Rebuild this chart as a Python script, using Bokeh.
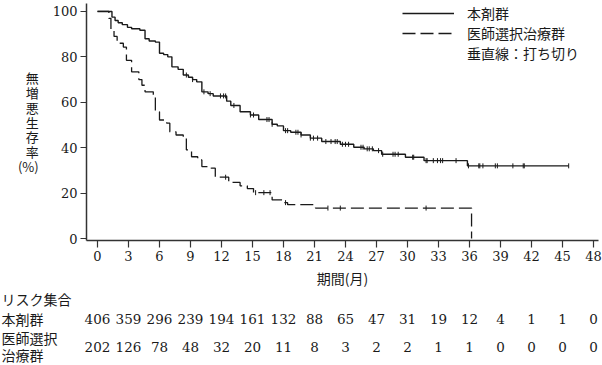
import numpy as np
from bokeh.plotting import figure
from bokeh.models import Range1d, Legend, LegendItem, FixedTicker, Label
from bokeh.layouts import column
from bokeh.core.properties import value
from bokeh.embed import file_html
from bokeh.resources import INLINE

# ---------------- data ----------------
name_a = "本剤群"
name_b = "医師選択治療群"
name_b_table = "医師選択\n治療群"
censor_note = "垂直線：打ち切り"
risk_header = "リスク集合"
x_title = "期間(月)"
y_title = "無\n増\n悪\n生\n存\n率\n(%)"

# 本剤群: step times (months) and survival (%) after each step
t_a = [0, 1.4, 1.7, 2.0, 2.4, 2.9, 3.3, 4.1, 4.6, 5.0, 5.6, 6.0, 6.4, 6.8, 7.2, 7.8, 8.3, 8.8,
       9.2, 9.6, 10.1, 10.7, 11.2, 12.5, 12.9, 13.8, 14.8, 15.6, 16.9, 17.4, 18.0, 18.7, 19.7,
       20.6, 21.7, 23.5, 24.8, 25.8, 26.7, 27.5, 29.8, 31.6, 35.8, 45.6]
s_a = [100, 97.5, 96, 95, 94.2, 93, 92.4, 91.7, 88, 87, 86.5, 81.6, 81, 80, 75.6, 74.5, 72, 71,
       70, 69, 64.6, 63.8, 62.8, 60.5, 58.6, 55.8, 54.4, 52.4, 50.3, 49.6, 47.5, 46.8, 45.6,
       44.2, 42.7, 41.5, 40.2, 39.5, 38.7, 37.1, 35.8, 34.3, 32, 32]
cens_a = [8.6, 9.2, 10.3, 10.9, 11.9, 12.2, 12.4, 13.2, 14.8, 15.1, 16.4, 16.6, 16.9, 18.2, 18.4,
          19.2, 19.4, 19.7, 20.6, 20.9, 21.3, 22.1, 22.6, 23.0, 23.2, 23.7, 24.0, 24.3, 25.5, 25.7,
          26.1, 26.3, 26.6, 27.2, 27.6, 28.6, 28.8, 29.1, 30.5, 30.6, 31.8, 31.9, 32.5, 32.9, 33.2,
          33.4, 34.7, 35.9, 36.9, 37.0, 37.3, 38.5, 38.7, 40.2, 41.2, 41.3, 45.6]

# 医師選択治療群
t_b = [0, 1.1, 1.3, 1.6, 1.9, 2.5, 2.8, 3.3, 4.0, 4.3, 4.6, 5.4, 5.6, 6.0, 6.7, 7.0, 7.6, 8.3,
       8.6, 9.1, 9.7, 10.1, 11.0, 11.4, 12.7, 13.8, 14.5, 15.1, 16.9, 17.9, 18.4, 21.1, 36.2]
s_b = [100, 97, 92, 89, 86, 84.3, 78.5, 73.4, 70, 67.5, 64.6, 63, 55.8, 52.2, 50.8, 47, 45.6,
       44.2, 39, 36, 34.6, 31.7, 31, 27, 24.7, 23.2, 22.0, 20.2, 17.0, 15.8, 14.9, 13.4, 0]
cens_b = [12.4, 15.3, 16.1, 16.7, 18.2, 22.3, 23.5, 31.8]

x_ticks = [0, 3, 6, 9, 12, 15, 18, 21, 24, 27, 30, 33, 36, 39, 42, 45, 48]
y_ticks = [0, 20, 40, 60, 80, 100]
risk_a = [406, 359, 296, 239, 194, 161, 132, 88, 65, 47, 31, 19, 12, 4, 1, 1, 0]
risk_b = [202, 126, 78, 48, 32, 20, 11, 8, 3, 2, 2, 1, 1, 0, 0, 0, 0]

# ---------------- style / layout ----------------
INK = "#1a1a1a"
AX = "#333333"
NUM_FONT = "DejaVu Serif"
JP_FONT = "Noto Sans CJK JP"

W = 602
H1 = 290
H2 = 75
B_LEFT, B_RIGHT, B_TOP, B_BOTTOM = 86, 4, 3, 49
frame_w = W - B_LEFT - B_RIGHT
PXPM = 10.333                     # pixels per month
x0 = -11 / PXPM
x1 = x0 + frame_w / PXPM
frame_h = H1 - B_TOP - B_BOTTOM
PXPP = 2.28                       # pixels per percent
y0 = -2 / PXPP
y1 = y0 + frame_h / PXPP

p = figure(width=W, height=H1, output_backend="svg", toolbar_location=None, title=None,
           x_range=Range1d(x0, x1), y_range=Range1d(y0, y1),
           min_border_left=B_LEFT, min_border_right=B_RIGHT,
           min_border_top=B_TOP, min_border_bottom=B_BOTTOM)
p.outline_line_color = None
p.grid.visible = False
p.background_fill_color = "white"

r_a = p.step(t_a, s_a, mode="after", line_color=INK, line_width=1.4)
r_b = p.step(t_b, s_b, mode="after", line_color=INK, line_width=1.3, line_dash="13 5")

def surv_at(tt, ss, c):
    idx = np.searchsorted(np.asarray(tt), np.asarray(c), side="right") - 1
    return np.asarray(ss)[idx]

p.scatter(cens_a, surv_at(t_a, s_a, cens_a), marker="dash", angle=np.pi / 2, size=5,
          line_color=INK, line_width=1)
p.scatter(cens_b, surv_at(t_b, s_b, cens_b), marker="dash", angle=np.pi / 2, size=5,
          line_color=INK, line_width=1)

r_note = p.line([], [], line_alpha=0)

legend = Legend(items=[LegendItem(label=name_a, renderers=[r_a]),
                       LegendItem(label=name_b, renderers=[r_b]),
                       LegendItem(label=censor_note, renderers=[r_note])],
                location="top_right", margin=0, padding=0, spacing=0,
                glyph_width=52, glyph_height=20, label_height=20, label_width=131,
                label_standoff=13, border_line_color=None, background_fill_alpha=0,
                label_text_font=JP_FONT, label_text_font_size="14px",
                label_text_color=INK)
p.add_layout(legend)

for ax in (p.xaxis[0], p.yaxis[0]):
    ax.axis_line_color = AX
    ax.axis_line_width = 1.5
    ax.major_tick_line_color = AX
    ax.major_tick_line_width = 1.2
    ax.major_tick_in = 0
    ax.minor_tick_line_color = None
    ax.major_label_text_font = NUM_FONT
    ax.major_label_text_color = INK
    ax.axis_label_text_font = JP_FONT
    ax.axis_label_text_font_style = "normal"
    ax.axis_label_text_color = INK
    ax.axis_label_text_font_size = "14px"

p.xaxis.ticker = FixedTicker(ticks=x_ticks)
p.xaxis.major_tick_out = 7
p.xaxis.major_label_standoff = 3
p.xaxis.major_label_text_font_size = "13px"
p.xaxis.axis_label = x_title
p.xaxis.axis_label_standoff = 4

p.yaxis.ticker = FixedTicker(ticks=y_ticks)
p.yaxis.major_tick_out = 6
p.yaxis.major_label_standoff = 3
p.yaxis.major_label_text_font_size = "13px"
p.yaxis.axis_label = y_title
p.yaxis.axis_label_text_font_size = "13px"
p.yaxis.axis_label_text_line_height = 0.78
p.yaxis.axis_label_standoff = 11
if hasattr(p.yaxis[0], "axis_label_orientation"):
    p.yaxis.axis_label_orientation = "horizontal"

# ---------------- risk table ----------------
own_frame = "frame_align" in p.properties()
tx0 = x0 - B_LEFT / PXPM
tx1 = x1 + B_RIGHT / PXPM
if own_frame:
    # table frame spans the whole width; its x scale matches the main plot
    q = figure(width=W, height=H2, output_backend="svg", toolbar_location=None, title=None,
               x_range=Range1d(tx0, tx1), y_range=Range1d(H2, 0),
               x_axis_type=None, y_axis_type=None,
               min_border_left=0, min_border_right=0, min_border_top=0, min_border_bottom=0)
    p.frame_align = False
    q.frame_align = False
else:
    q = figure(width=W, height=H2, output_backend="svg", toolbar_location=None, title=None,
               x_range=p.x_range, y_range=Range1d(H2, 0),
               x_axis_type=None, y_axis_type=None,
               min_border_left=B_LEFT, min_border_right=B_RIGHT, min_border_top=0,
               min_border_bottom=0)
q.outline_line_color = None
q.grid.visible = False

ROW_HDR, ROW_A, ROW_B = 8.5, 28.5, 56
LH_B = 0.84
x_lab = tx0 + 1 / PXPM
if own_frame:
    q.text(x=[x_lab], y=[ROW_HDR], text=[risk_header], text_align="left",
           text_baseline="middle", text_font=value(JP_FONT), text_font_size="14px",
           text_color=INK)
    q.text(x=[x_lab], y=[ROW_A], text=[name_a], text_align="left",
           text_baseline="middle", text_font=value(JP_FONT), text_font_size="14px",
           text_color=INK)
    q.text(x=[x_lab], y=[ROW_B], text=[name_b_table], text_align="left",
           text_baseline="middle", text_font=value(JP_FONT), text_font_size="14px",
           text_line_height=LH_B, text_color=INK)
else:
    for txt, yy, lh in ((risk_header, ROW_HDR, 1.2), (name_a, ROW_A, 1.2),
                        (name_b_table, ROW_B, LH_B)):
        q.add_layout(Label(x=x_lab, y=yy, text=txt, text_align="left", text_baseline="middle",
                           text_font=JP_FONT, text_font_size="14px", text_color=INK,
                           text_line_height=lh))

q.text(x=x_ticks, y=[ROW_A] * len(x_ticks), text=[str(v) for v in risk_a], text_align="center",
       text_baseline="middle", text_font=value(NUM_FONT), text_font_size="13.5px", text_color=INK)
q.text(x=x_ticks, y=[ROW_B] * len(x_ticks), text=[str(v) for v in risk_b], text_align="center",
       text_baseline="middle", text_font=value(NUM_FONT), text_font_size="13.5px", text_color=INK)

layout = column(p, q, spacing=0)
open("out.html", "w").write(file_html(layout, INLINE))
